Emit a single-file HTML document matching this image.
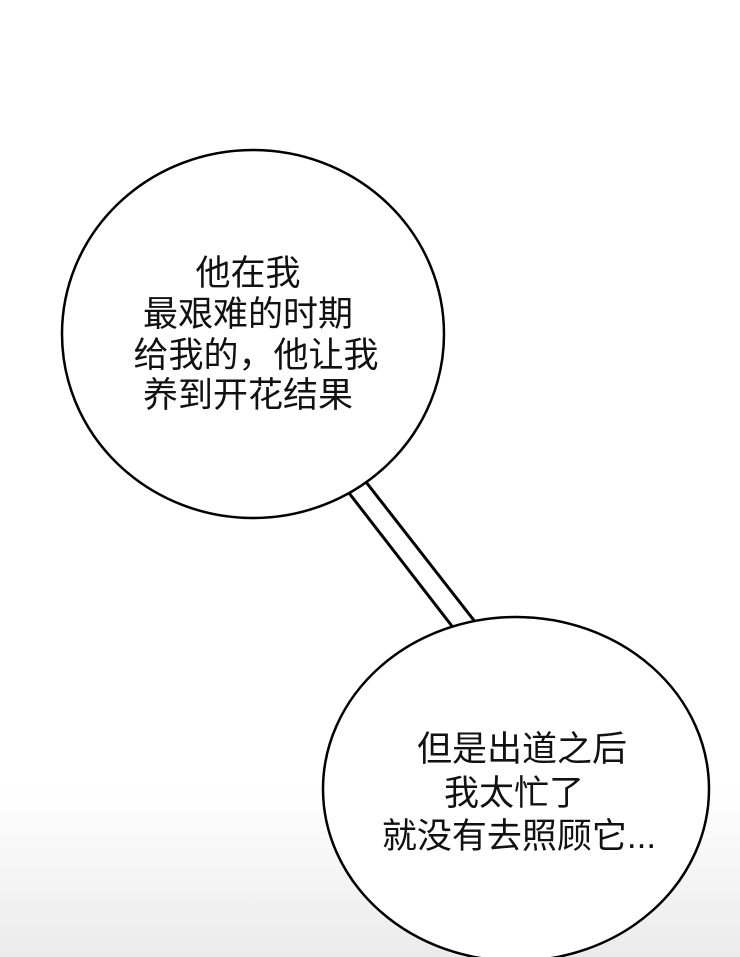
<!DOCTYPE html>
<html><head><meta charset="utf-8"><style>
html,body{margin:0;padding:0}
body{width:740px;height:957px;overflow:hidden;background:linear-gradient(to bottom,#fff 0,#fff 780px,#f4f4f4 880px,#ebebeb 957px);position:relative}
svg{position:absolute;left:0;top:0}
text{font-family:"Liberation Sans","Noto Sans CJK SC",sans-serif;font-size:35px;fill:#111;text-anchor:middle}
</style></head><body>
<svg width="740" height="957" viewBox="0 0 740 957">
<polygon points="349,493 366,482 476,623 455,630" fill="#fff" stroke="#000" stroke-width="3"/>
<ellipse cx="253" cy="334" rx="191" ry="184" fill="#fff" stroke="#000" stroke-width="2.5"/>
<ellipse cx="516" cy="789" rx="193" ry="172" fill="#fff" stroke="#000" stroke-width="2.5"/>
<text x="248" y="285">他在我</text>
<text x="248" y="326">最艰难的时期</text>
<text x="256" y="367">给我的，他让我</text>
<text x="248" y="407">养到开花结果</text>
<text x="522" y="761">但是出道之后</text>
<text x="514" y="805">我太忙了</text>
<text x="519" y="848">就没有去照顾它...</text>
</svg>
</body></html>
